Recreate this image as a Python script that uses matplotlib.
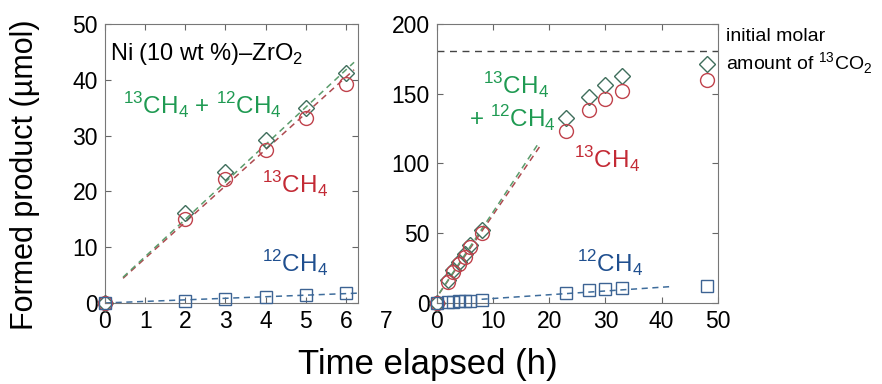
import numpy as np
import matplotlib.pyplot as plt

plt.rcParams['font.family'] = ['Liberation Sans', 'DejaVu Sans']
plt.rcParams['mathtext.fontset'] = 'custom'
plt.rcParams['mathtext.rm'] = 'Liberation Sans'

# short run (left panel), hours
t_short = [0, 2, 3, 4, 5, 6]
ch4_13_short = [0, 15.0, 22.3, 27.5, 33.2, 39.2]
ch4_sum_short = [0, 16.2, 23.4, 29.2, 34.9, 41.3]
ch4_12_short = [0, 0.4, 0.8, 1.1, 1.4, 1.7]

# long run (right panel), hours
t_long = [0, 2, 3, 4, 5, 6, 8, 23, 27, 30, 33, 48]
ch4_13_long = [0, 15.2, 22.4, 28.0, 33.0, 40.0, 50.5, 123.6, 138.4, 146.2, 152.0, 159.8]
ch4_sum_long = [0, 16.2, 23.4, 29.2, 34.9, 41.3, 52.6, 132.6, 147.9, 156.4, 162.9, 171.6]
ch4_12_long = [0, 0.5, 0.8, 1.1, 1.4, 1.7, 2.1, 7.4, 9.5, 9.8, 10.5, 12.4]
co2_initial = 181

# linear fits (slope, intercept) and fitted ranges
fit_short = {'sum': (6.7, 1.6), '13': (6.5, 1.5), '12': (0.28, 0.0)}
fit_long = {'sum': (6.1, 4.0), '13': (5.9, 4.0), '12': (0.27, 0.5)}
rng_short = {'sum': (0.45, 6.2), '13': (0.45, 6.2), '12': (0.0, 6.3)}
rng_long = {'sum': (0.5, 18.3), '13': (0.5, 18.3), '12': (8.0, 42.0)}

c_txt = {'sum': '#1f9a52', '13': '#c32a35', '12': '#1f4f8f'}
c_mk = {'sum': '#3f6e5c', '13': '#c0424c', '12': '#3d6393'}
c_ln = {'sum': '#5b9c6c', '13': '#ad4a4f', '12': '#3f6d9c'}

fig = plt.figure(figsize=(8.82, 3.84), dpi=100)
ax1 = fig.add_axes([0.119, 0.211, 0.287, 0.7265])
ax2 = fig.add_axes([0.495, 0.211, 0.319, 0.7265])


def draw(ax, t, s13, ssum, s12, fits, rngs):
    for k in ['12', '13', 'sum']:
        m, b = fits[k]
        xx = np.array(rngs[k])
        ax.plot(xx, m * xx + b, ls=(0, (4, 3)), color=c_ln[k], lw=1.1, zorder=2)
    ax.plot(t, ssum, 'D', mfc='none', mec=c_mk['sum'], ms=8.5, mew=1.0, clip_on=False, zorder=3)
    ax.plot(t, s13, 'o', mfc='none', mec=c_mk['13'], ms=10, mew=1.0, clip_on=False, zorder=3)
    ax.plot(t, s12, 's', mfc='none', mec=c_mk['12'], ms=8.5, mew=1.0, clip_on=False, zorder=3)
    ax.tick_params(direction='in', top=True, right=True, labelsize=16.5, length=4,
                   color='#666666', pad=5)
    for sp in ax.spines.values():
        sp.set_color('#777777')


draw(ax1, t_short, ch4_13_short, ch4_sum_short, ch4_12_short, fit_short, rng_short)
ax1.set_xlim(0, 6.3)
ax1.set_ylim(0, 50)
ax1.set_xticks(range(0, 7))
ax1.set_yticks(range(0, 51, 10))
ax1.text(7, -0.025, '7', transform=ax1.get_xaxis_transform(), ha='center', va='top',
         fontsize=16.5, clip_on=False)

ax1.text(0.02, 0.87, 'Ni (10 wt %)–ZrO$_2$', transform=ax1.transAxes, fontsize=17)
ax1.text(0.07, 0.675, '$^{13}$CH$_4$ + $^{12}$CH$_4$', transform=ax1.transAxes,
         fontsize=17.5, color=c_txt['sum'])
ax1.text(0.62, 0.39, '$^{13}$CH$_4$', transform=ax1.transAxes, fontsize=17.5,
         color=c_txt['13'])
ax1.text(0.62, 0.11, '$^{12}$CH$_4$', transform=ax1.transAxes, fontsize=17.5,
         color=c_txt['12'])

draw(ax2, t_long, ch4_13_long, ch4_sum_long, ch4_12_long, fit_long, rng_long)
ax2.axhline(co2_initial, ls=(0, (5, 4)), color='#444444', lw=1.0, zorder=1)
ax2.set_xlim(0, 50)
ax2.set_ylim(0, 200)
ax2.set_xticks(range(0, 51, 10))
ax2.set_yticks(range(0, 201, 50))

ax2.text(0.165, 0.745, '$^{13}$CH$_4$', transform=ax2.transAxes, fontsize=17.5,
         color=c_txt['sum'])
ax2.text(0.115, 0.63, '+ $^{12}$CH$_4$', transform=ax2.transAxes, fontsize=17.5,
         color=c_txt['sum'])
ax2.text(0.49, 0.48, '$^{13}$CH$_4$', transform=ax2.transAxes, fontsize=17.5,
         color=c_txt['13'])
ax2.text(0.50, 0.11, '$^{12}$CH$_4$', transform=ax2.transAxes, fontsize=17.5,
         color=c_txt['12'])

fig.text(0.823, 0.905, 'initial molar', fontsize=14, va='center')
fig.text(0.823, 0.835, 'amount of $^{13}$CO$_2$', fontsize=14, va='center')

fig.text(0.028, 0.545, 'Formed product (µmol)', rotation=90, ha='center', va='center',
         fontsize=22)
fig.text(0.485, 0.05, 'Time elapsed (h)', ha='center', va='center', fontsize=25)

fig.savefig('out.png', dpi=100)
